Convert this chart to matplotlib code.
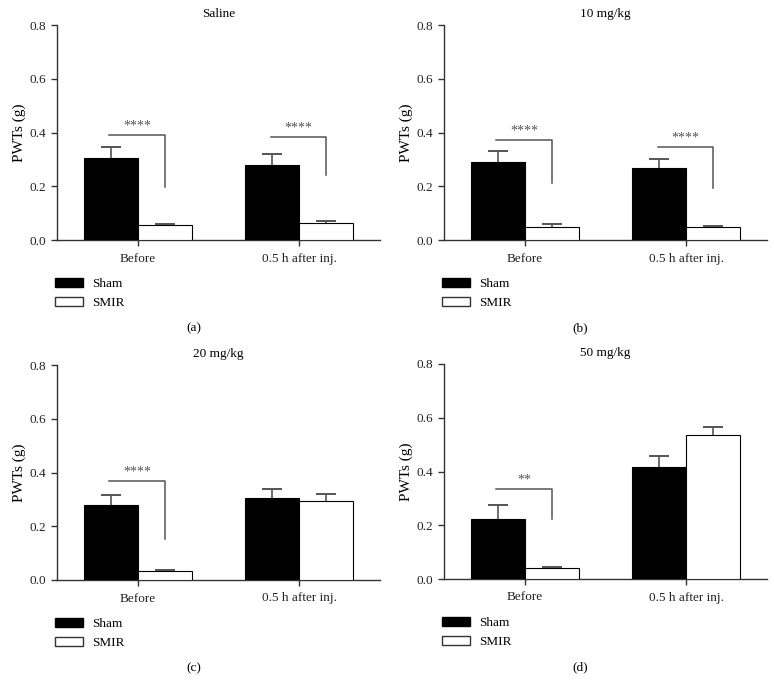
import matplotlib

matplotlib.use("Agg")
import matplotlib.pyplot as plt
import numpy as np
from matplotlib.patches import Patch

plt.rcParams["font.family"] = ["Liberation Serif", "DejaVu Serif"]

groups = ["Before", "0.5 h after inj."]
titles = ["Saline", "10 mg/kg", "20 mg/kg", "50 mg/kg"]
panel_tags = ["(a)", "(b)", "(c)", "(d)"]

sham_mean = [[0.304, 0.278], [0.292, 0.267], [0.278, 0.306], [0.222, 0.416]]
sham_err = [[0.042, 0.042], [0.038, 0.036], [0.038, 0.034], [0.052, 0.041]]
smir_mean = [[0.055, 0.062], [0.050, 0.048], [0.035, 0.293], [0.041, 0.534]]
smir_err = [[0.003, 0.008], [0.008, 0.005], [0.003, 0.028], [0.004, 0.032]]

# significance brackets: (group, bracket height, drop end, stars)
brackets = [
    [(0, 0.390, 0.198, "****"), (1, 0.382, 0.242, "****")],
    [(0, 0.372, 0.211, "****"), (1, 0.346, 0.195, "****")],
    [(0, 0.368, 0.151, "****")],
    [(0, 0.335, 0.224, "**")],
]

W, H = 774, 692
fig = plt.figure(figsize=(W / 100, H / 100), dpi=100)

# axes boxes in pixels: left, top(0.8), bottom(0.0)
boxes = [(57, 25, 240), (444, 25, 240), (57, 365, 580), (444, 364, 579)]
axis_w = 323
grey = "#555555"
width = 1 / 3
x = np.arange(len(groups))

for i, (left, top, bottom) in enumerate(boxes):
    ax = fig.add_axes([left / W, 1 - bottom / H, axis_w / W, (bottom - top) / H])
    ax.bar(x - width / 2, sham_mean[i], width, color="black", edgecolor="black",
           linewidth=0.8, zorder=3)
    ax.bar(x + width / 2, smir_mean[i], width, color="white", edgecolor="black",
           linewidth=0.8, zorder=3)
    for xs, m, e in [(x - width / 2, sham_mean[i], sham_err[i]), (x + width / 2, smir_mean[i], smir_err[i])]:
        m, e = np.array(m), np.array(e)
        # upper whisker only, cap at the top
        ax.errorbar(xs, m, yerr=[np.zeros(len(e)), e], fmt="none", ecolor=grey,
                    elinewidth=1.2, capsize=0, zorder=2)
        ax.errorbar(xs, m + e, yerr=np.zeros(len(e)), fmt="none", ecolor=grey,
                    elinewidth=1.2, capsize=7, capthick=1.2, zorder=2)
    for g, yb, yd, stars in brackets[i]:
        x0, x1 = g - width / 2 - 0.01, g + width / 2
        ax.plot([x0, x1, x1], [yb, yb, yd], color=grey, lw=1.1)
        ax.text((x0 + x1) / 2, yb + 0.01, stars, ha="center", va="bottom",
                fontsize=10, color=grey)
    ax.set_xlim(-0.5, 1.5)
    ax.set_ylim(0, 0.8)
    ax.set_yticks([0.0, 0.2, 0.4, 0.6, 0.8])
    ax.set_yticklabels(["0.0", "0.2", "0.4", "0.6", "0.8"])
    ax.set_xticks(x)
    ax.set_xticklabels(groups)
    ax.tick_params(direction="out", length=4, width=1, colors="#333333", labelsize=9.5,
                   labelcolor="#222222")
    ax.tick_params(axis="x", pad=5)
    for side in ["top", "right"]:
        ax.spines[side].set_visible(False)
    for side in ["left", "bottom"]:
        ax.spines[side].set_color("#333333")
        ax.spines[side].set_linewidth(1)
    ax.set_ylabel("PWTs (g)", fontsize=11, labelpad=3)
    ax.set_title(titles[i], fontsize=9.5, pad=6)
    handles = [Patch(facecolor="black", edgecolor="black", label="Sham"),
               Patch(facecolor="white", edgecolor="#333333", label="SMIR")]
    ax.legend(handles=handles, loc="upper left", bbox_to_anchor=(-0.005, -0.175),
              frameon=False, fontsize=9.5, borderpad=0, borderaxespad=0,
              handlelength=2.1, handleheight=0.75, handletextpad=0.7, labelspacing=0.5)
    col = 0.25 if i % 2 == 0 else 0.75
    fig.text(col, 1 - (bottom + 88) / H, panel_tags[i], ha="center", va="center", fontsize=9.5)

fig.savefig("out.png", dpi=100)
